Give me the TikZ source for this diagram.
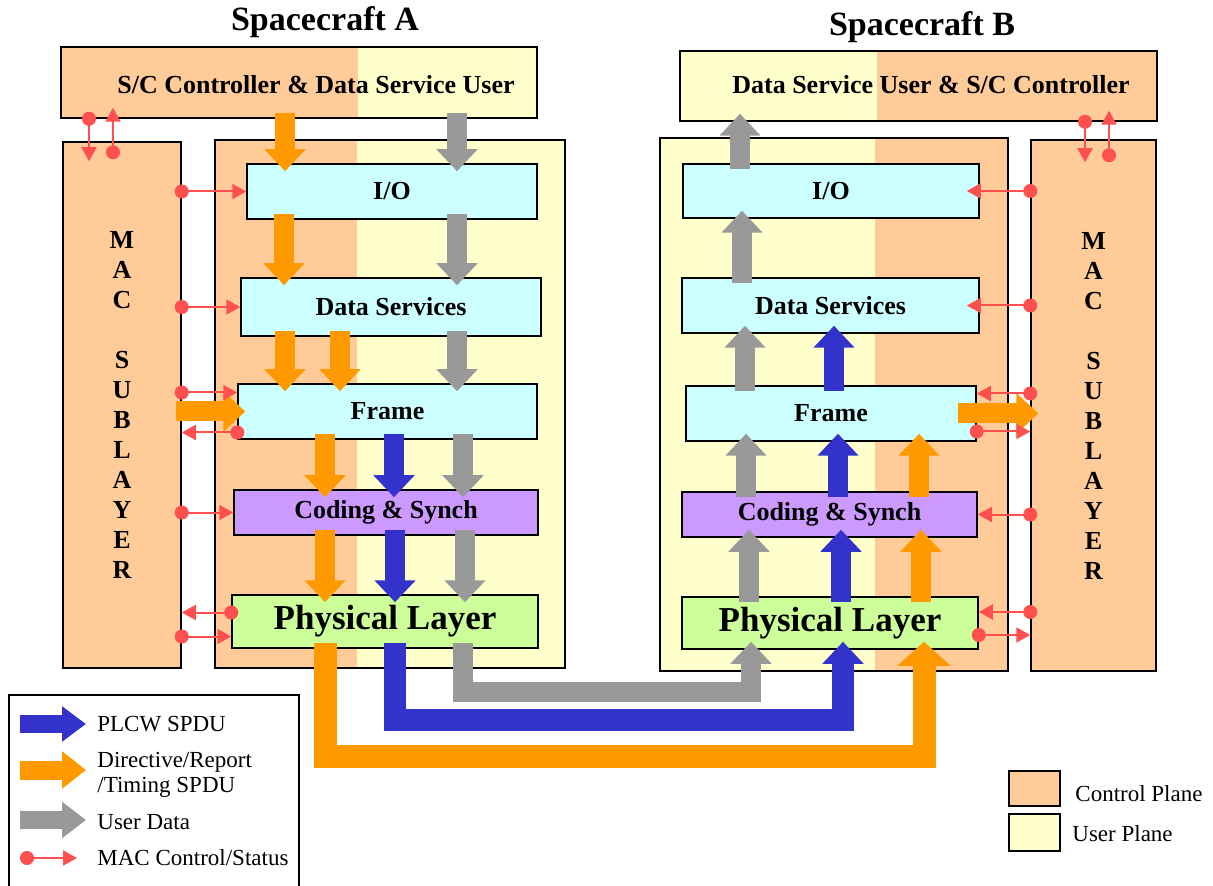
\documentclass[tikz,border=0pt]{standalone}
\usepackage{fontspec}
\setmainfont{Liberation Serif}
\usetikzlibrary{arrows.meta, calc, positioning}

\definecolor{ctrlplane}{HTML}{FFCC99}
\definecolor{userplane}{HTML}{FFFFCC}
\definecolor{iocyan}{HTML}{CCFFFF}
\definecolor{codpurple}{HTML}{CC99FF}
\definecolor{phygreen}{HTML}{CCFF99}
\definecolor{dirorange}{HTML}{FF9900}
\definecolor{plcwblue}{HTML}{3333CC}
\definecolor{datagray}{HTML}{999999}
\definecolor{macred}{HTML}{FF5050}

\begin{document}
\begin{tikzpicture}[x=0.5pt, y=-0.5pt,
    plane/.style={draw, line width=0.75pt, inner sep=0pt},
    layer/.style={draw, line width=0.75pt, inner sep=0pt, font=\bfseries\fontsize{13}{15}\selectfont},
    lbl/.style={font=\bfseries\fontsize{13}{15}\selectfont},
    flow/.style={draw=#1, line width=10pt, shorten <=-3pt, shorten >=-4pt, -{Triangle[length=11pt, width=20pt]}},
    mac/.style={draw=macred, line width=1pt, shorten <=-3.5pt, {Circle[length=7pt]}-{Triangle[length=7pt, width=7.5pt]}},
    key/.style={anchor=west, inner xsep=0pt, align=left, font=\fontsize{11.5}{12.5}\selectfont}]
    \useasboundingbox (0,0) rectangle (1213,886);

    \path (325,22) node[font=\bfseries\fontsize{17}{20}\selectfont] (titleA) {Spacecraft A};
    \path (922,27) node[font=\bfseries\fontsize{17}{20}\selectfont] (titleB) {Spacecraft B};

    % Spacecraft A
    \fill[ctrlplane] (61,47) rectangle (358,118);
    \fill[userplane] (358,47) rectangle (537,118);
    \path (299,82.5) node[plane, minimum width=238pt, minimum height=35.5pt] (topA) {};
    \path (316,85) node[lbl] (topAtext) {S/C Controller \& Data Service User};

    \fill[ctrlplane] (215,140) rectangle (357,668);
    \fill[userplane] (357,140) rectangle (565,668);
    \path (390,404) node[plane, minimum width=175pt, minimum height=264pt] (stackA) {};
    \path (122,405) node[plane, fill=ctrlplane, minimum width=59pt, minimum height=263pt, align=center, lbl] (macA) {M\\A\\C\\[15pt]S\\U\\B\\L\\A\\Y\\E\\R};

    \path (392,191.5) node[layer, fill=iocyan, minimum width=145pt, minimum height=27.5pt] (ioA) {I/O};
    \path (391,307) node[layer, fill=iocyan, minimum width=150pt, minimum height=29pt] (dsA) {Data Services};
    \path (387.5,411.5) node[layer, fill=iocyan, minimum width=149.5pt, minimum height=27.5pt] (frameA) {Frame};
    \path (386,512.5) node[layer, fill=codpurple, minimum width=152pt, minimum height=22.5pt] (codA) {Coding \& Synch};
    \path (385,621.5) node[layer, fill=phygreen, minimum width=153pt, minimum height=26.5pt, font=\bfseries\fontsize{17.5}{20}\selectfont] (phyA) {Physical Layer};

    % Spacecraft B
    \fill[userplane] (680,51) rectangle (877,121);
    \fill[ctrlplane] (877,51) rectangle (1157,121);
    \path (918.5,86) node[plane, minimum width=238.5pt, minimum height=35pt] (topB) {};
    \path (931,85) node[lbl] (topBtext) {Data Service User \& S/C Controller};

    \fill[userplane] (660,138) rectangle (875,671);
    \fill[ctrlplane] (875,138) rectangle (1008,671);
    \path (834,404.5) node[plane, minimum width=174pt, minimum height=266.5pt] (stackB) {};
    \path (1093.5,405.5) node[plane, fill=ctrlplane, minimum width=62.5pt, minimum height=265.5pt, align=center, lbl] (macB) {M\\A\\C\\[15pt]S\\U\\B\\L\\A\\Y\\E\\R};

    \path (831,191) node[layer, fill=iocyan, minimum width=148pt, minimum height=27pt] (ioB) {I/O};
    \path (830.5,305.5) node[layer, fill=iocyan, minimum width=148.5pt, minimum height=27.5pt] (dsB) {Data Services};
    \path (831,413.5) node[layer, fill=iocyan, minimum width=145pt, minimum height=27.5pt] (frameB) {Frame};
    \path (829.5,514.5) node[layer, fill=codpurple, minimum width=147.5pt, minimum height=22.5pt] (codB) {Coding \& Synch};
    \path (830,623) node[layer, fill=phygreen, minimum width=148pt, minimum height=26pt, font=\bfseries\fontsize{17.5}{20}\selectfont] (phyB) {Physical Layer};

    % flows down through A
    \draw[flow=dirorange] (topA.south -| 285,0) -- (ioA.north -| 285,0);
    \draw[flow=datagray] (topA.south -| 457,0) -- (ioA.north -| 457,0);
    \draw[flow=dirorange] (ioA.south -| 284,0) -- (dsA.north -| 284,0);
    \draw[flow=datagray] (ioA.south -| 457,0) -- (dsA.north -| 457,0);
    \draw[flow=dirorange] (dsA.south -| 285,0) -- (frameA.north -| 285,0);
    \draw[flow=dirorange] (dsA.south -| 340,0) -- (frameA.north -| 340,0);
    \draw[flow=datagray] (dsA.south -| 457,0) -- (frameA.north -| 457,0);
    \draw[flow=dirorange] (frameA.south -| 325,0) -- (codA.north -| 325,0);
    \draw[flow=plcwblue] (frameA.south -| 394,0) -- (codA.north -| 394,0);
    \draw[flow=datagray] (frameA.south -| 463,0) -- (codA.north -| 463,0);
    \draw[flow=dirorange] (codA.south -| 325,0) -- (phyA.north -| 325,0);
    \draw[flow=plcwblue] (codA.south -| 395,0) -- (phyA.north -| 395,0);
    \draw[flow=datagray] (codA.south -| 465,0) -- (phyA.north -| 465,0);
    \draw[flow=dirorange] (macA.east |- frameA.west) -- (frameA.west);

    % flows up through B
    \draw[flow=datagray] (ioB.north -| 740,0) -- (topB.south -| 740,0);
    \draw[flow=datagray] (dsB.north -| 742,0) -- (ioB.south -| 742,0);
    \draw[flow=datagray] (frameB.north -| 745,0) -- (dsB.south -| 745,0);
    \draw[flow=plcwblue] (frameB.north -| 834,0) -- (dsB.south -| 834,0);
    \draw[flow=datagray] (codB.north -| 746,0) -- (frameB.south -| 746,0);
    \draw[flow=plcwblue] (codB.north -| 838,0) -- (frameB.south -| 838,0);
    \draw[flow=dirorange] (codB.north -| 919,0) -- (frameB.south -| 919,0);
    \draw[flow=datagray] (phyB.north -| 749,0) -- (codB.south -| 749,0);
    \draw[flow=plcwblue] (phyB.north -| 841,0) -- (codB.south -| 841,0);
    \draw[flow=dirorange] (phyB.north -| 921,0) -- (codB.south -| 921,0);
    \draw[flow=dirorange] ($(frameB.east)+(-13,0)$) -- (macB.west |- frameB.east);

    % link between the physical layers
    \draw[flow=datagray] (phyA.south -| 463,0) -- ++(0,43) -| (phyB.south -| 751,0);
    \draw[flow=plcwblue, line width=11pt] (phyA.south -| 395,0) -- ++(0,71.5) -| (phyB.south -| 843,0);
    \draw[flow=dirorange, line width=11.5pt, -{Triangle[length=12pt, width=26pt]}] (phyA.south -| 325,0) -- ++(0,107.5) -| (phyB.south -| 924,0);

    % MAC control/status, A
    \draw[mac] (topA.south -| 89,0) -- ($(macA.north -| 89,0)+(0,20)$);
    \draw[mac] ($(macA.north -| 113,0)+(0,11)$) -- ($(topA.south -| 113,0)+(0,-11)$);
    \draw[mac] (macA.east |- ioA.west) -- (ioA.west);
    \draw[mac] (macA.east |- dsA.west) -- (dsA.west);
    \draw[mac] ($(macA.east |- frameA.west)+(0,-19)$) -- ($(frameA.west)+(0,-19)$);
    \draw[mac] ($(frameA.west)+(0,21)$) -- ($(macA.east |- frameA.west)+(0,21)$);
    \draw[mac] (macA.east |- codA.west) -- (codA.west);
    \draw[mac] ($(phyA.west)+(0,-9)$) -- ($(macA.east |- phyA.west)+(0,-9)$);
    \draw[mac] ($(macA.east |- phyA.west)+(0,15)$) -- ($(phyA.west)+(0,15)$);

    % MAC control/status, B
    \draw[mac] (topB.south -| 1085,0) -- ($(macB.north -| 1085,0)+(0,23)$);
    \draw[mac] ($(macB.north -| 1109,0)+(0,16)$) -- ($(topB.south -| 1109,0)+(0,-11)$);
    \draw[mac] (macB.west |- ioB.east) -- ($(ioB.east)+(-13,0)$);
    \draw[mac] (macB.west |- dsB.east) -- ($(dsB.east)+(-13,0)$);
    \draw[mac] ($(macB.west |- frameB.east)+(0,-20)$) -- ($(frameB.east)+(0,-20)$);
    \draw[mac] ($(frameB.east)+(0,18)$) -- ($(macB.west |- frameB.east)+(0,18)$);
    \draw[mac] (macB.west |- codB.east) -- (codB.east);
    \draw[mac] ($(macB.west |- phyB.east)+(0,-11)$) -- ($(phyB.east)+(0,-11)$);
    \draw[mac] ($(phyB.east)+(0,12)$) -- ($(macB.west |- phyB.east)+(0,12)$);

    % legend
    \path (154,800) node[plane, minimum width=145pt, minimum height=105pt] (legend) {};
    \draw[flow=plcwblue, shorten <=0pt, shorten >=0pt, line width=9pt, -{Triangle[length=12pt, width=17pt]}] (20,724) -- (86,724);
    \draw[flow=dirorange, shorten <=0pt, shorten >=0pt, line width=9.5pt, -{Triangle[length=12pt, width=18pt]}] (20,770) -- (86,770);
    \draw[flow=datagray, shorten <=0pt, shorten >=0pt, line width=9pt, -{Triangle[length=12pt, width=17.5pt]}] (20,820) -- (86,820);
    \draw[mac] (27,858) -- (77,858);
    \path (97,724) node[key] (keyPlcw) {PLCW SPDU};
    \path (97,775) node[key] (keyDir) {Directive/Report\\/Timing SPDU};
    \path (97,822) node[key] (keyUser) {User Data};
    \path (97,858) node[key] (keyMac) {MAC Control/Status};

    \path (1034.5,788.5) node[plane, fill=ctrlplane, minimum width=25.5pt, minimum height=17.5pt] (keyCtrl) {};
    \path (1034.5,832.5) node[plane, fill=userplane, minimum width=25.5pt, minimum height=18.5pt] (keyUsr) {};
    \path (1075,794) node[key] (keyCtrlText) {Control Plane};
    \path (1072,834) node[key] (keyUsrText) {User Plane};
\end{tikzpicture}
\end{document}
